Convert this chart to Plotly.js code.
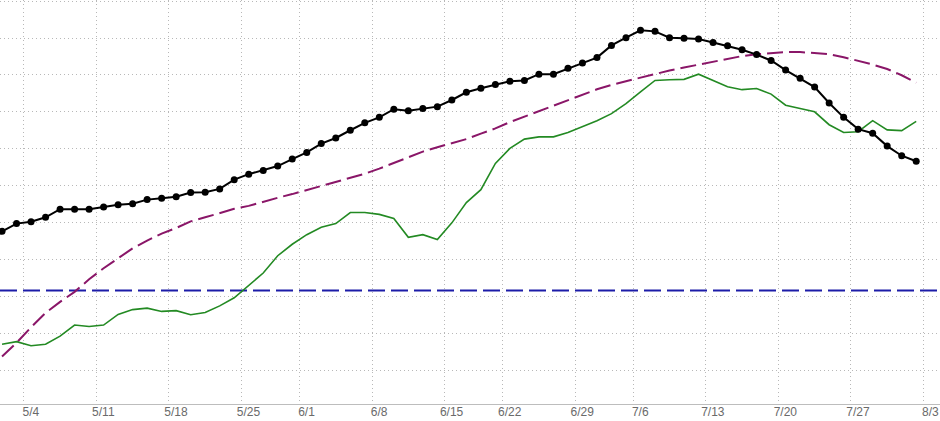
<!DOCTYPE html>
<html>
<head>
<meta charset="utf-8">
<script src="https://cdn.plot.ly/plotly-3.0.1.min.js"></script>
<style>html,body{margin:0;padding:0;background:#fff;}#chart{width:940px;height:421px;}</style>
</head>
<body>
<div id="chart"></div>
<script>
// Trading days shown on the chart
const tradingDays = [
  "2026-04-30","2026-05-01",
  "2026-05-04","2026-05-05","2026-05-06","2026-05-07","2026-05-08",
  "2026-05-11","2026-05-12","2026-05-13","2026-05-14","2026-05-15",
  "2026-05-18","2026-05-19","2026-05-20","2026-05-21","2026-05-22",
  "2026-05-26","2026-05-27","2026-05-28","2026-05-29",
  "2026-06-01","2026-06-02","2026-06-03","2026-06-04","2026-06-05",
  "2026-06-08","2026-06-09","2026-06-10","2026-06-11","2026-06-12",
  "2026-06-15","2026-06-16","2026-06-17","2026-06-18",
  "2026-06-22","2026-06-23","2026-06-24","2026-06-25","2026-06-26",
  "2026-06-29","2026-06-30","2026-07-01","2026-07-02",
  "2026-07-06","2026-07-07","2026-07-08","2026-07-09","2026-07-10",
  "2026-07-13","2026-07-14","2026-07-15","2026-07-16","2026-07-17",
  "2026-07-20","2026-07-21","2026-07-22","2026-07-23","2026-07-24",
  "2026-07-27","2026-07-28","2026-07-29","2026-07-30","2026-07-31"
];

// Week labels (Mondays)
const weekStarts = ["2026-05-04","2026-05-11","2026-05-18","2026-05-25","2026-06-01","2026-06-08",
  "2026-06-15","2026-06-22","2026-06-29","2026-07-06","2026-07-13","2026-07-20","2026-07-27","2026-08-03"];
const weekLabels = ["5/4","5/11","5/18","5/25","6/1","6/8","6/15","6/22","6/29","7/6","7/13","7/20","7/27","8/3"];

// Series values
const blackSeries = [
  37.6,39.7,40.2,41.4,43.6,43.6,43.6,44.2,44.8,45.1,
  46.2,46.6,47.0,48.1,48.2,49.1,51.6,53.1,54.1,55.3,
  57.2,59.0,61.4,62.9,65.0,67.0,68.5,70.7,70.3,70.9,
  71.4,73.2,75.3,76.4,77.4,78.3,78.5,80.2,80.2,81.8,
  83.2,84.7,88.0,90.1,92.1,91.8,90.1,89.9,89.7,88.8,
  87.9,86.8,85.5,83.9,81.3,79.1,76.7,72.4,68.5,65.3,
  64.2,60.7,58.1,56.6
];
const greenSeries = [
  7.0,7.7,6.6,7.0,9.2,12.2,11.8,12.2,15.1,16.4,
  16.8,15.9,16.1,15.0,15.6,17.4,19.6,23.0,26.3,31.0,
  34.1,36.7,38.7,39.7,42.7,42.7,42.2,41.1,36.0,36.7,
  35.4,39.9,45.4,48.9,56.0,60.1,62.6,63.2,63.2,64.4,
  66.0,67.6,69.5,72.2,75.4,78.5,78.7,78.8,80.2,78.4,
  76.8,76.0,76.3,74.8,71.8,70.9,70.0,66.5,64.4,64.6,
  67.6,65.1,64.9,67.4
];
const purpleSeries = [
  3.7,7.4,11.6,15.5,18.5,21.2,24.6,27.6,30.3,33.0,
  35.1,37.0,38.5,40.3,41.4,42.5,43.7,44.5,45.7,46.7,
  47.7,48.8,50.0,51.1,52.2,53.2,54.6,56.1,57.8,59.2,
  60.4,61.5,62.6,64.1,65.5,67.2,68.7,70.1,71.6,73.1,
  74.6,76.1,77.3,78.3,79.3,80.2,81.2,82.0,82.8,83.7,
  84.5,85.1,85.6,86.0,86.2,86.2,86.0,85.6,84.8,83.9,
  82.8,81.6,79.9,77.9
];
const thresholdLevel = 21.6;

// x positions: trading-day index
const xIdx = tradingDays.map((d, i) => i);
// tick boundaries: half a day before the first trading day of each week
const tickPos = weekStarts.map(w => {
  const k = tradingDays.findIndex(d => d >= w);
  return (k === -1 ? tradingDays.length : k) - 0.5;
});

const traces = [
  {
    x: xIdx, y: purpleSeries, text: tradingDays, type: 'scatter', mode: 'lines',
    line: {color: '#8a1668', width: 2, dash: '16px,6px'}, hoverinfo: 'text+y'
  },
  {
    x: xIdx, y: greenSeries, text: tradingDays, type: 'scatter', mode: 'lines',
    line: {color: '#238a23', width: 1.6}, hoverinfo: 'text+y'
  },
  {
    x: xIdx, y: blackSeries, text: tradingDays, type: 'scatter', mode: 'lines+markers',
    line: {color: '#000000', width: 2}, marker: {color: '#000000', size: 7}, hoverinfo: 'text+y'
  }
];

const gridDots = '1px,3px';
const layout = {
  width: 940, height: 421,
  margin: {l: 0, r: 0, t: 0, b: 17, pad: 0},
  paper_bgcolor: '#ffffff', plot_bgcolor: '#ffffff',
  showlegend: false,
  xaxis: {
    type: 'linear',
    range: [-0.14, 64.64],
    tickmode: 'array', tickvals: tickPos, ticktext: weekLabels,
    ticklabelshift: 7,
    ticklabelstandoff: -3,
    ticks: '',
    showgrid: true, gridcolor: '#b8b8b8', griddash: gridDots, gridwidth: 1,
    zeroline: false, showline: true, linecolor: '#bdbdbd', linewidth: 1,
    tickfont: {family: 'Liberation Sans, Arial, sans-serif', size: 12, color: '#6a6a6a'},
    fixedrange: true
  },
  yaxis: {
    range: [-9.19, 100.3],
    tick0: 0, dtick: 10,
    showticklabels: false, ticks: '',
    showgrid: true, gridcolor: '#b8b8b8', griddash: gridDots, gridwidth: 1,
    zeroline: false, showline: false,
    fixedrange: true
  },
  shapes: [
    {type: 'line', xref: 'paper', x0: 0, x1: 1, yref: 'y', y0: thresholdLevel, y1: thresholdLevel,
     line: {color: '#1c1ca8', width: 2, dash: '17px,6px'}, layer: 'below'}
  ]
};

Plotly.newPlot('chart', traces, layout, {displayModeBar: false, staticPlot: true});
</script>
</body>
</html>
